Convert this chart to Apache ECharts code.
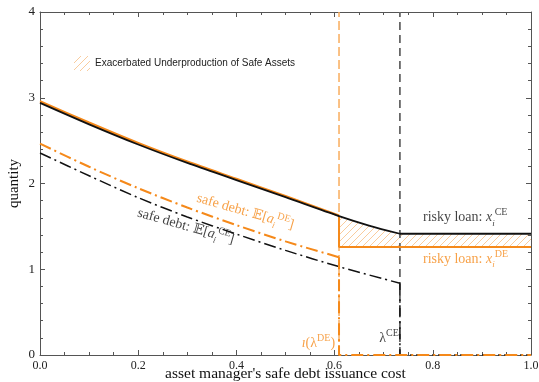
<!DOCTYPE html>
<html>
<head>
<meta charset="utf-8">
<script src="https://cdn.jsdelivr.net/npm/echarts@6/dist/echarts.min.js"></script>
<style>
  html, body { margin: 0; padding: 0; background: #fff; }
  #chart { width: 539px; height: 382px; }
</style>
</head>
<body>
<div id="chart"></div>
<script>
// 读图得到的数据
const lambdaDE = 0.609;
const lambdaCE = 0.733;

const riskyCE = [[0, 2.94], [0.1, 2.69], [0.2, 2.455], [0.3, 2.24], [0.4, 2.04], [0.5, 1.84], [0.609, 1.62], [0.67, 1.51], [0.733, 1.414]];
const riskyCEFlat = [[0.733, 1.414], [1.0, 1.414]];
const riskyDE = [[0, 2.96], [0.1, 2.71], [0.2, 2.472], [0.3, 2.255], [0.4, 2.054], [0.5, 1.853], [0.609, 1.625]];
const riskyDEStep = [[0.609, 1.625], [0.609, 1.259], [1.0, 1.259]];
const safeDE = [[0, 2.465], [0.1, 2.195], [0.2, 1.945], [0.3, 1.72], [0.4, 1.515], [0.5, 1.325], [0.609, 1.14]];
const safeDEDrop = [[0.609, 1.14], [0.609, 0], [1.0, 0]];
const safeCE = [[0, 2.356], [0.1, 2.09], [0.2, 1.835], [0.3, 1.61], [0.4, 1.41], [0.5, 1.22], [0.609, 1.03], [0.733, 0.837]];
const safeCEDrop = [[0.733, 0.837], [0.733, 0], [1.0, 0]];
const riskyDEFloor = 1.259;

const legendName = 'Exacerbated Underproduction of Safe Assets';

const BLACK = '#111';
const ORANGE = '#f5891a';
const SERIF = '"Liberation Serif", "DejaVu Serif", serif';

// 斜线填充
function makeHatch() {
  const s = 7;
  const c = document.createElement('canvas');
  c.width = s; c.height = s;
  const ctx = c.getContext('2d');
  ctx.strokeStyle = '#f9cc9e';
  ctx.lineWidth = 1;
  ctx.beginPath();
  ctx.moveTo(0, s); ctx.lineTo(s, 0);
  ctx.moveTo(-1, 1); ctx.lineTo(1, -1);
  ctx.moveTo(s - 1, s + 1); ctx.lineTo(s + 1, s - 1);
  ctx.stroke();
  return { image: c, repeat: 'repeat' };
}
const hatch = makeHatch();

// 阴影区域：CE 风险贷款曲线与 DE 风险贷款之间
const hatchPoly = riskyCE.filter(p => p[0] >= lambdaDE)
  .concat(riskyCEFlat.slice(1))
  .concat([[1.0, riskyDEFloor], [lambdaDE, riskyDEFloor]]);

const rich = {
  n: { fontFamily: SERIF, fontSize: 14, lineHeight: 20 },
  it: { fontFamily: SERIF, fontSize: 14, fontStyle: 'italic', lineHeight: 20 },
  sub: { fontFamily: SERIF, fontSize: 9, fontStyle: 'italic', lineHeight: 9, verticalAlign: 'bottom' },
  sup: { fontFamily: SERIF, fontSize: 10, lineHeight: 10, verticalAlign: 'top' }
};

const labels = [
  { value: [0.78, 1.60], text: '{n|risky loan: }{it|x}{sub|i}{sup|CE}', color: BLACK, rotate: 0, align: 'left' },
  { value: [0.78, 1.12], text: '{n|risky loan: }{it|x}{sub|i}{sup|DE}', color: ORANGE, rotate: 0, align: 'left' },
  { value: [0.418, 1.67], text: '{n|safe debt: 𝔼[}{it|a}{sub|i}{sup|DE}{n|]}', color: ORANGE, rotate: -16, align: 'center' },
  { value: [0.297, 1.50], text: '{n|safe debt: 𝔼[}{it|a}{sub|i}{sup|CE}{n|]}', color: BLACK, rotate: -16, align: 'center' },
  { value: [0.711, 0.19], text: '{n|λ}{sup|CE}', color: BLACK, rotate: 0, align: 'center' },
  { value: [0.567, 0.14], text: '{it|ı}{n|(λ}{sup|DE}{n|)}', color: ORANGE, rotate: 0, align: 'center' }
];

const chart = echarts.init(document.getElementById('chart'));

// 框线四边都带朝内的刻度
function boxAxis(pos, max, interval, minorSplit) {
  return {
    type: 'value', min: 0, max, interval, position: pos,
    axisLine: { show: true, onZero: false, lineStyle: { color: '#555', width: 1 } },
    axisTick: { show: true, inside: true, length: 5, lineStyle: { color: '#555' } },
    minorTick: { show: true, splitNumber: minorSplit, length: 3, lineStyle: { color: '#555' } },
    splitLine: { show: false },
    axisLabel: { show: false }
  };
}

function line(data, color, width, type, smooth) {
  return {
    type: 'line', data, smooth: smooth ? 0.3 : false, symbol: 'none', silent: true,
    lineStyle: { color, width, type }
  };
}

const xBottom = Object.assign(boxAxis('bottom', 1, 0.2, 4), {
  axisLabel: { show: true, formatter: v => v.toFixed(1), fontFamily: SERIF, fontSize: 12, color: '#222', margin: 5 },
  name: "asset manager's safe debt issuance cost", nameLocation: 'middle', nameGap: 11, nameMoveOverlap: false,
  nameTextStyle: { fontFamily: SERIF, fontSize: 15.5, color: '#111' }
});
const yLeft = Object.assign(boxAxis('left', 4, 1, 5), {
  axisLabel: { show: true, fontFamily: SERIF, fontSize: 13, color: '#222', margin: 5 },
  name: 'quantity', nameLocation: 'middle', nameGap: 18, nameMoveOverlap: false,
  nameTextStyle: { fontFamily: SERIF, fontSize: 15, color: '#111' }
});

chart.setOption({
  animation: false,
  backgroundColor: '#fff',
  grid: { left: 40, right: 8, top: 12, bottom: 27, outerBoundsMode: 'none', containLabel: false },
  legend: {
    left: 69, top: 51, itemWidth: 16, itemHeight: 15, itemGap: 4,
    textStyle: { fontFamily: '"Liberation Sans", Arial, sans-serif', fontSize: 10, color: '#222' },
    data: [{ name: legendName, icon: 'rect', itemStyle: { color: hatch, borderWidth: 0, borderColor: 'rgba(0,0,0,0)' } }]
  },
  xAxis: [xBottom, boxAxis('top', 1, 0.2, 4)],
  yAxis: [yLeft, boxAxis('right', 4, 1, 5)],
  series: [
    line([[lambdaDE, 0], [lambdaDE, 4]], '#f9ac5c', 1.5, [9, 4]),
    line([[lambdaCE, 0], [lambdaCE, 4]], '#666', 1.8, [8, 5]),
    {
      name: legendName, type: 'custom', data: hatchPoly, silent: true,
      itemStyle: { color: hatch, borderWidth: 0 },
      renderItem(params, api) {
        if (params.dataIndex !== 0) return;
        return {
          type: 'polygon',
          shape: { points: hatchPoly.map(p => api.coord(p)) },
          style: { fill: hatch }
        };
      }
    },
    line(safeCE, BLACK, 1.5, [12, 4, 2, 4], true),
    line(safeCEDrop, BLACK, 1.5, [12, 4, 2, 4]),
    line(safeDE, ORANGE, 2, [12, 4, 2, 4], true),
    line(safeDEDrop, ORANGE, 2, [12, 4, 2, 4]),
    line(riskyDE, ORANGE, 2.2, 'solid', true),
    line(riskyDEStep, ORANGE, 2, 'solid'),
    line(riskyCE, BLACK, 1.8, 'solid', true),
    line(riskyCEFlat, BLACK, 1.8, 'solid'),
    {
      type: 'scatter', symbolSize: 0, silent: true,
      data: labels.map(l => ({
        value: l.value,
        label: {
          show: true, position: 'inside', formatter: l.text, color: l.color,
          rotate: l.rotate, align: l.align, verticalAlign: 'middle',
          rich: Object.fromEntries(Object.entries(rich).map(([k, v]) => [k, Object.assign({ color: l.color }, v)]))
        }
      }))
    }
  ]
});
</script>
</body>
</html>
